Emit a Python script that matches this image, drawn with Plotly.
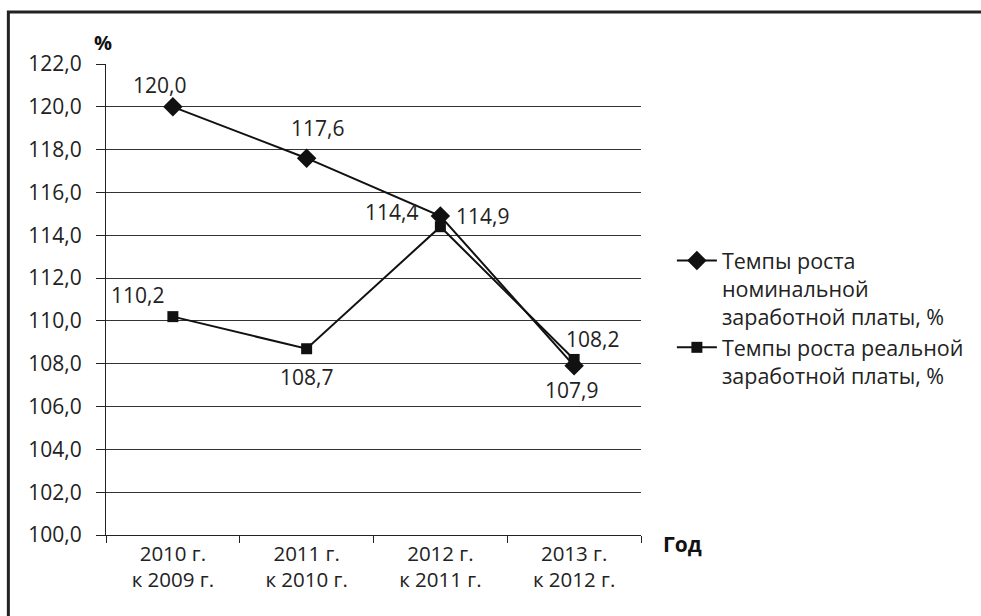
import plotly.graph_objects as go

categories = ["2010 г.<br>к 2009 г.", "2011 г.<br>к 2010 г.", "2012 г.<br>к 2011 г.", "2013 г.<br>к 2012 г."]
nominal = [120.0, 117.6, 114.9, 107.9]
real = [110.2, 108.7, 114.4, 108.2]
nominal_name = "Темпы роста<br>номинальной<br>заработной платы, %"
real_name = "Темпы роста реальной<br>заработной платы, %"
y_ticks = [100 + 2 * i for i in range(12)]

# label offsets (px) — styling only
nominal_offsets = [(-13, 22), (11, 30), (42, 0), (-3, -24)]
real_offsets = [(-35, 22), (0, -28), (-49, 15), (18, 20)]

W, H = 981, 616
L, R, T, B = 106, 981 - 643, 64, 616 - 535
pw, ph = W - L - R, H - T - B

def px(x):
    return (x - L) / pw

def py(y):
    return (H - B - y) / ph

FONT = "Open Sans"
fig = go.Figure()
fig.add_trace(go.Scatter(
    x=categories, y=nominal, name=nominal_name, mode="lines+markers",
    line=dict(color="#111", width=2),
    marker=dict(symbol="diamond", size=15, color="#111"),
))
fig.add_trace(go.Scatter(
    x=categories, y=real, name=real_name, mode="lines+markers",
    line=dict(color="#111", width=2),
    marker=dict(symbol="square", size=11, color="#111"),
))

for vals, offs in ((nominal, nominal_offsets), (real, real_offsets)):
    for c, v, (dx, dy) in zip(categories, vals, offs):
        fig.add_annotation(x=c, y=v, text=f"{v:.1f}".replace(".", ","), showarrow=False,
                           xshift=dx, yshift=dy, font=dict(family=FONT, size=21, color="#222"))

fig.add_annotation(xref="paper", yref="paper", x=px(92), y=py(42), text="<b>%</b>",
                   showarrow=False, xanchor="left", yanchor="middle",
                   font=dict(family=FONT, size=20, color="#111"))
fig.add_annotation(xref="paper", yref="paper", x=px(663), y=py(544), text="<b>Год</b>",
                   showarrow=False, xanchor="left", yanchor="middle",
                   font=dict(family=FONT, size=21, color="#111"))

fig.add_shape(type="rect", xref="paper", yref="paper",
              x0=px(8), x1=px(1000), y0=py(640), y1=py(12),
              line=dict(color="#222", width=3), layer="above")

fig.update_layout(
    width=W, height=H,
    margin=dict(l=L, r=R, t=T, b=B),
    paper_bgcolor="white", plot_bgcolor="white",
    separators=", ",
    font=dict(family=FONT, size=20, color="#222"),
    showlegend=True,
    legend=dict(x=px(674), y=py(240), xanchor="left", yanchor="top",
                font=dict(family=FONT, size=21.5, color="#222"),
                valign="top", itemwidth=40, tracegroupgap=8, bgcolor="rgba(0,0,0,0)"),
    xaxis=dict(type="category", range=[-0.5, 3.5], showgrid=False, zeroline=False,
               showline=True, linecolor="#222", linewidth=1,
               ticks="outside", tickson="boundaries", ticklen=7, tickcolor="#222",
               tickfont=dict(family=FONT, size=20.5, color="#222")),
    yaxis=dict(range=[100, 122], tickvals=y_ticks, tickformat=".1f",
               showgrid=True, gridcolor="#333", gridwidth=1, zeroline=False,
               showline=True, linecolor="#222", linewidth=1,
               ticks="outside", ticklen=9, tickcolor="#222", ticklabelstandoff=10,
               tickfont=dict(family=FONT, size=21, color="#222")),
)

fig.write_html("out.html", config={"displayModeBar": False},
               post_script="document.body.style.margin='0';document.body.style.overflow='hidden';")
